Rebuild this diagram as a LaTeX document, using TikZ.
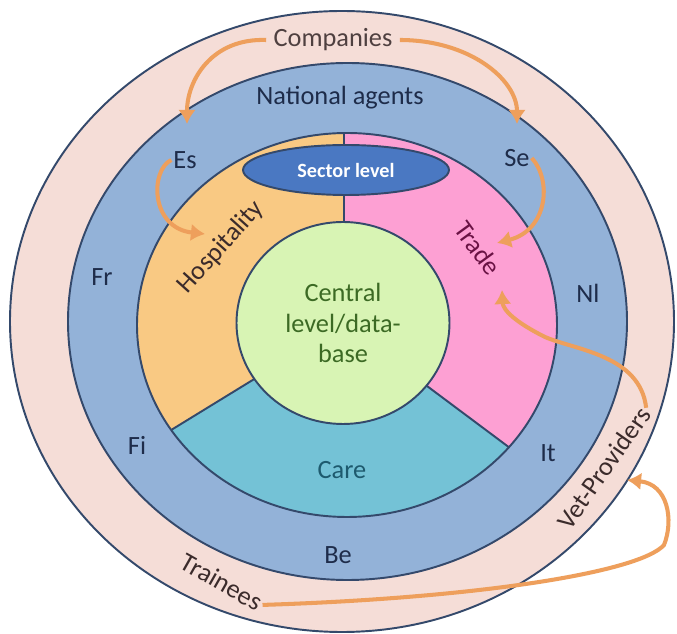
\documentclass[tikz,border=0pt]{standalone}
\usepackage{fontspec}
\setmainfont{Carlito}
\usetikzlibrary{arrows.meta,shapes.geometric}
\definecolor{ringpink}{HTML}{F5DDD7}
\definecolor{agentblue}{HTML}{93B2D8}
\definecolor{hospcol}{HTML}{F9C983}
\definecolor{tradecol}{HTML}{FDA0D3}
\definecolor{carecol}{HTML}{74C2D6}
\definecolor{centralcol}{HTML}{D8F4B4}
\definecolor{sectorcol}{HTML}{4A78C2}
\definecolor{rimcol}{HTML}{34496B}
\definecolor{arrowcol}{HTML}{EE9F5C}
\definecolor{navy}{HTML}{1E2C4A}
\definecolor{darkred}{HTML}{3B2B2B}
\definecolor{tradetext}{HTML}{6A1244}
\definecolor{caretext}{HTML}{1E5A6E}
\definecolor{centraltext}{HTML}{3C6A24}

\begin{document}
\begin{tikzpicture}[x=0.02cm,y=-0.02cm,
  rim/.style={draw=rimcol,line width=1.1pt},
  lbl/.style={font=\fontsize{15}{17}\selectfont,text=navy,inner sep=1pt},
  flow/.style={draw=arrowcol,line width=2.3pt,-{Latex[length=8pt,width=10pt]}}]
  \useasboundingbox (0,0) rectangle (677,634);
  \fill[white] (0,0) rectangle (677,634);

  \filldraw[rim,fill=ringpink] (342,321.5) ellipse [x radius=332,y radius=310.5];
  \filldraw[rim,fill=agentblue] (347.5,321.5) ellipse [x radius=279.5,y radius=258.5];
  \begin{scope}
    \clip (347,325) ellipse [x radius=210,y radius=192];
    \fill[tradecol] (0,0) rectangle (677,634);
    \fill[hospcol] (344,324) -- (344,0) -- (0,0) -- (0,535) -- cycle;
    \fill[carecol] (344,324) -- (0,535) -- (0,700) -- (700,700) -- (700,590) -- cycle;
    \draw[rim] (344,0) -- (344,324) -- (0,535) (344,324) -- (700,590);
  \end{scope}
  \draw[rim] (347,325) ellipse [x radius=210,y radius=192];
  \filldraw[rim,fill=centralcol] (343,323) ellipse [x radius=106.5,y radius=101];

  \node[ellipse,rim,fill=sectorcol,minimum width=4.12cm,minimum height=1cm,inner sep=0,
        text=white,font=\bfseries\fontsize{11.5}{13}\selectfont] (sector) at (346,170) {Sector level};
  \node[align=center,text=centraltext,font=\fontsize{15}{17.5}\selectfont] (central) at (343,323)
       {Central\\level/data-\\base};

  \node[lbl,text=darkred!90,inner sep=4pt] (companies) at (333,40) {Companies};
  \node[lbl] (agents) at (340,98) {National agents};
  \node[lbl] (es) at (185,160) {Es};
  \node[lbl] (se) at (517,158) {Se};
  \node[lbl] (fr) at (102,277) {Fr};
  \node[lbl] (fi) at (137,445) {Fi};
  \node[lbl] (nl) at (588,293) {Nl};
  \node[lbl] (it) at (548,453) {It};
  \node[lbl] (be) at (338,555) {Be};
  \node[lbl,text=caretext] (care) at (342,470) {Care};
  \node[lbl,text=darkred,rotate=48] (hosp) at (221,247) {Hospitality};
  \node[lbl,text=tradetext,rotate=-54] (trade) at (478,248) {Trade};
  \node[lbl,text=darkred,rotate=55] (vet) at (604,468) {Vet-Providers};
  \node[lbl,text=darkred,rotate=-29.5] (trainees) at (222,582) {Trainees};

  \coordinate (esTip) at (187,124);
  \coordinate (seTip) at (517,124);
  \coordinate (hospTip) at (205,234);
  \coordinate (tradeTip) at (497,243);
  \coordinate (tradeTop) at (502,290);
  \coordinate (vetTip) at (627,480);

  \draw[flow] (companies.west) .. controls (212,38) and (187,80) .. (esTip);
  \draw[flow] (companies.east) .. controls (470,40) and (517,80) .. (seTip);
  \draw[flow] (es.west) .. controls (150,170) and (150,228) .. (hospTip);
  \draw[flow] (se.east) .. controls (552,180) and (548,230) .. (tradeTip);
  \draw[flow] (vet.east) .. controls (640,355) and (575,350) .. (545,337)
     .. controls (515,322) and (503,310) .. (tradeTop);
  \draw[flow] (trainees.east) .. controls (480,598) and (640,572) .. (664,545)
     .. controls (674,520) and (668,484) .. (vetTip);
\end{tikzpicture}
\end{document}
